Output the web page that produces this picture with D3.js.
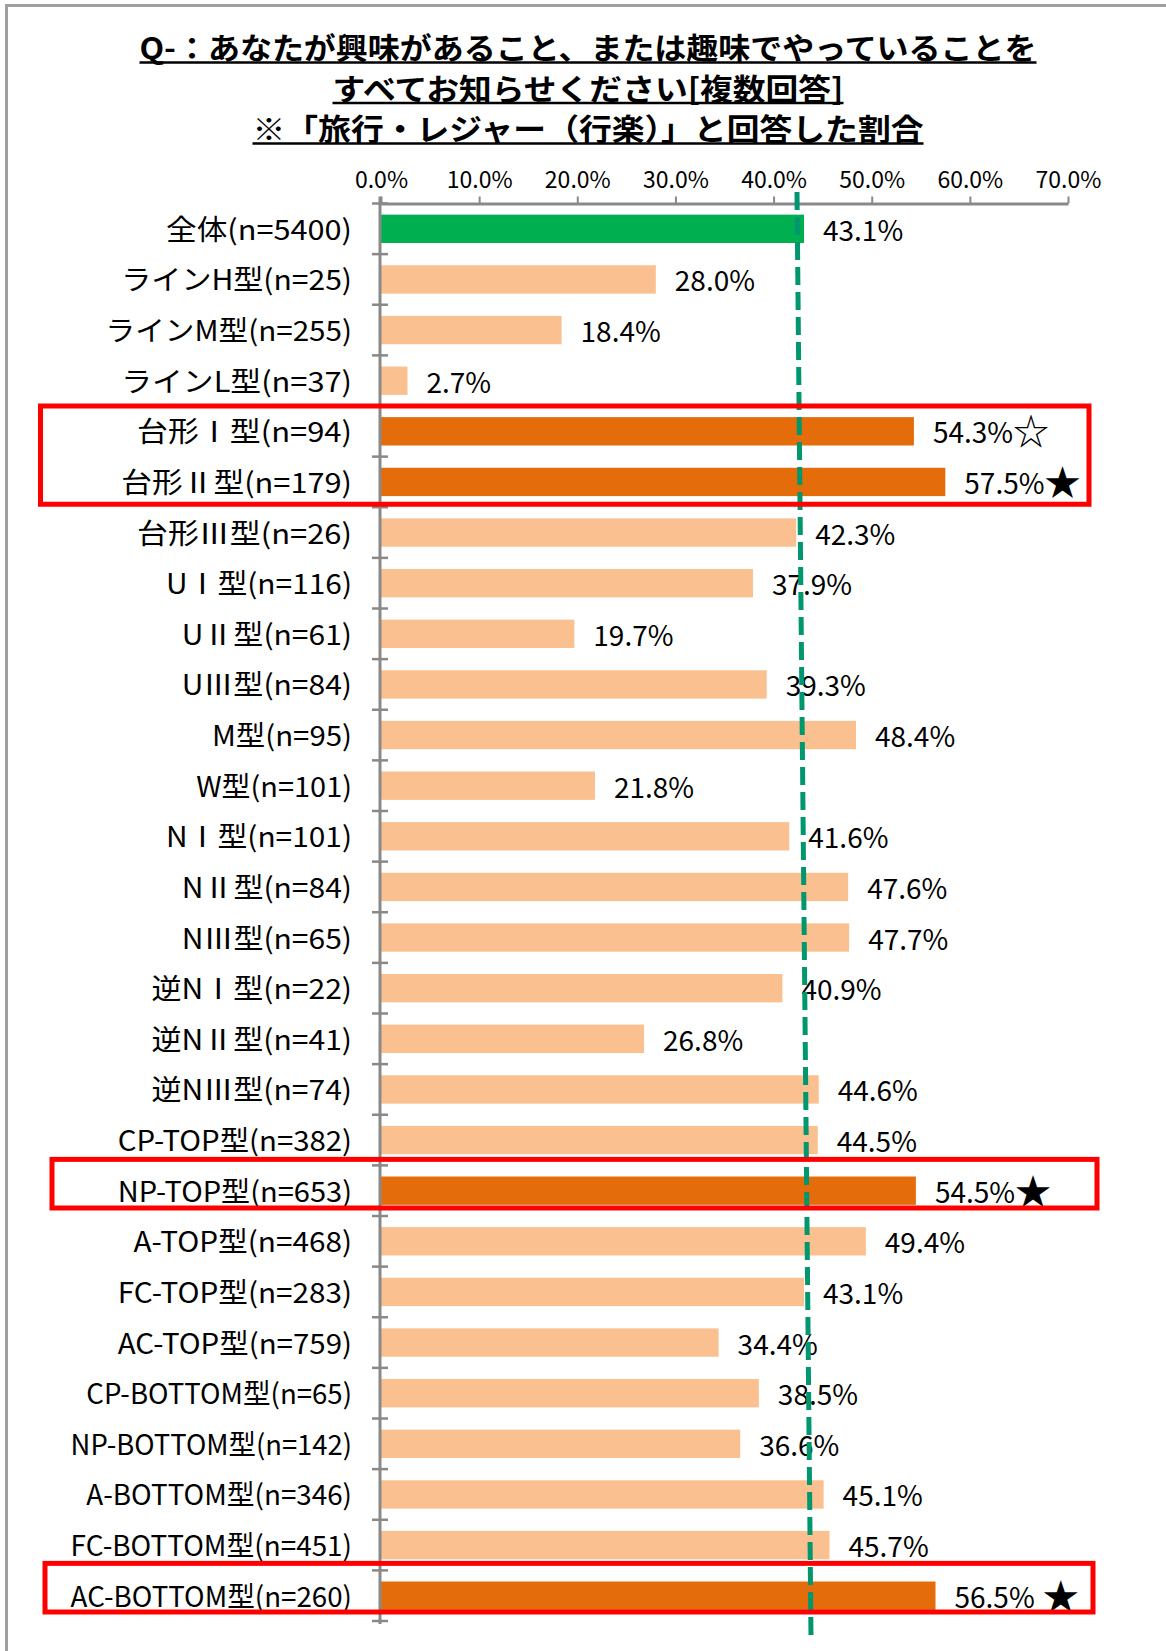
<!DOCTYPE html>
<html>
<head>
<meta charset="utf-8">
<script src="https://cdn.jsdelivr.net/npm/d3@7"></script>
<style>
  body { margin: 0; background: #fff; }
  svg text { font-family: "Noto Sans CJK JP", "Noto Sans", sans-serif; }
</style>
</head>
<body>
<svg id="chart" width="1166" height="1651"></svg>
<script>
'use strict';

var titleLines = [
  'Q-：あなたが興味があること、または趣味でやっていることを',
  'すべてお知らせください[複数回答]',
  '※「旅行・レジャー（行楽）」と回答した割合'
];

var categories = [
  '全体(n=5400)', 'ラインH型(n=25)', 'ラインM型(n=255)', 'ラインL型(n=37)',
  '台形Ⅰ型(n=94)', '台形Ⅱ型(n=179)', '台形Ⅲ型(n=26)',
  'UⅠ型(n=116)', 'UⅡ型(n=61)', 'UⅢ型(n=84)',
  'M型(n=95)', 'W型(n=101)',
  'NⅠ型(n=101)', 'NⅡ型(n=84)', 'NⅢ型(n=65)',
  '逆NⅠ型(n=22)', '逆NⅡ型(n=41)', '逆NⅢ型(n=74)',
  'CP-TOP型(n=382)', 'NP-TOP型(n=653)', 'A-TOP型(n=468)', 'FC-TOP型(n=283)', 'AC-TOP型(n=759)',
  'CP-BOTTOM型(n=65)', 'NP-BOTTOM型(n=142)', 'A-BOTTOM型(n=346)', 'FC-BOTTOM型(n=451)', 'AC-BOTTOM型(n=260)'
];

var values = [
  43.1, 28.0, 18.4, 2.7,
  54.3, 57.5, 42.3,
  37.9, 19.7, 39.3,
  48.4, 21.8,
  41.6, 47.6, 47.7,
  40.9, 26.8, 44.6,
  44.5, 54.5, 49.4, 43.1, 34.4,
  38.5, 36.6, 45.1, 45.7, 56.5
];

// marks written after the value label
var starMarks = ['', '', '', '', '☆', '★', '', '', '', '', '', '', '', '', '', '', '', '', '', '★', '', '', '', '', '', '', '', ' ★'];

var highlightRows = [4, 5, 19, 27];
var boxedRows = [[4, 5], [19, 19], [27, 27]];

var tickValues = [0, 10, 20, 30, 40, 50, 60, 70];
var tickLabels = ['0.0%', '10.0%', '20.0%', '30.0%', '40.0%', '50.0%', '60.0%', '70.0%'];

var averageValue = 43.1;

var svg = d3.select('#chart'),
    axisColor = '#898989',
    x = d3.scaleLinear().domain([0, 70]).range([381, 1068]),
    y = d3.scaleBand().domain(d3.range(categories.length)).range([203.5, 1621]).paddingInner(0.44).paddingOuter(0.22),
    step = y.step(),
    top0 = 203.5;

function barColor(i) {
  if (i === 0) return '#00B050';
  return highlightRows.indexOf(i) >= 0 ? '#E46C0A' : '#FAC090';
}

// the source font is a fixed-pitch gothic: full-width ~30px, half-width ~15.7px
function fixedPitchWidth(s) {
  var w = 0;
  for (var k = 0; k < s.length; k++) w += s.charCodeAt(k) > 0x2000 ? 30.2 : 15.7;
  return w;
}

// outer frame (top and left only)
svg.append('path').attr('d', 'M6.5,1651V5.5H1166')
  .attr('fill', 'none').attr('stroke', '#a0a0a0').attr('stroke-width', 3);

// title
var titleWidths = [897, 511, 671];
titleLines.forEach(function (t, i) {
  var yb = 59 + i * 40.5;
  svg.append('text')
    .attr('x', 588).attr('y', yb)
    .attr('text-anchor', 'middle')
    .attr('font-size', 30).attr('font-weight', 'bold')
    .attr('textLength', titleWidths[i]).attr('lengthAdjust', 'spacingAndGlyphs')
    .text(t);
  svg.append('line')
    .attr('x1', 588 - titleWidths[i] / 2).attr('x2', 588 + titleWidths[i] / 2)
    .attr('y1', yb + 3.5).attr('y2', yb + 3.5)
    .attr('stroke', '#000').attr('stroke-width', 2.5);
});

// bars
svg.append('g').selectAll('rect').data(values).enter().append('rect')
  .attr('x', x(0))
  .attr('y', function (d, i) { return y(i); })
  .attr('width', function (d) { return x(d) - x(0); })
  .attr('height', y.bandwidth())
  .attr('fill', function (d, i) { return barColor(i); });

// top value axis
var xAxis = svg.append('g').attr('transform', 'translate(0,' + top0 + ')')
  .call(d3.axisTop(x).tickValues(tickValues).tickFormat(function (d, i) { return tickLabels[i]; }).tickSize(7).tickSizeOuter(0));
xAxis.select('.domain').attr('stroke', axisColor).attr('stroke-width', 3);
xAxis.selectAll('.tick line').attr('stroke', axisColor).attr('stroke-width', 2);
xAxis.selectAll('.tick text')
  .attr('y', -16).attr('dy', 0)
  .attr('fill', '#000').attr('font-size', 23)
  .style('font-family', '"Noto Sans CJK JP", sans-serif');

// category axis with crossing ticks at band edges
var yAxis = svg.append('g');
yAxis.append('line')
  .attr('x1', 380).attr('x2', 380).attr('y1', top0 - 7).attr('y2', top0 + step * categories.length + 3)
  .attr('stroke', axisColor).attr('stroke-width', 3);
yAxis.selectAll('line.tick').data(d3.range(categories.length + 1)).enter().append('line')
  .attr('class', 'tick')
  .attr('x1', 372).attr('x2', 388)
  .attr('y1', function (d) { return top0 + d * step; })
  .attr('y2', function (d) { return top0 + d * step; })
  .attr('stroke', axisColor).attr('stroke-width', 2.5);

svg.append('g').selectAll('text').data(categories).enter().append('text')
  .attr('x', 352)
  .attr('y', function (d, i) { return y(i) + y.bandwidth() / 2 + 11; })
  .attr('text-anchor', 'end')
  .attr('font-size', 28)
  .attr('textLength', function (d) { return fixedPitchWidth(d); })
  .attr('lengthAdjust', 'spacingAndGlyphs')
  .text(function (d) { return d; });

// value labels
var fmt = d3.format('.1f');
var labels = svg.append('g').selectAll('text').data(values).enter().append('text')
  .attr('x', function (d) { return x(d) + 19; })
  .attr('y', function (d, i) { return y(i) + y.bandwidth() / 2 + 12; })
  .attr('font-size', 28);
labels.append('tspan').text(function (d) { return fmt(d) + '%'; });
labels.append('tspan').attr('font-size', 36).attr('dy', 2)
  .text(function (d, i) { return starMarks[i]; });

// average reference line (drawn slightly slanted, as in the source)
svg.append('line')
  .attr('x1', x(averageValue) - 7).attr('y1', 192)
  .attr('x2', x(averageValue) + 7).attr('y2', 1637)
  .attr('stroke', '#00976F').attr('stroke-width', 5)
  .attr('stroke-dasharray', '18,7');

// red highlight boxes
var boxX = [[40.5, 1089], [52, 1097], [45, 1093]],
    boxDy = [[0, -3], [-6, -8], [-7, -9]];
svg.append('g').selectAll('rect').data(boxedRows).enter().append('rect')
  .attr('x', function (d, i) { return boxX[i][0]; })
  .attr('width', function (d, i) { return boxX[i][1] - boxX[i][0]; })
  .attr('y', function (d, i) { return top0 + d[0] * step + boxDy[i][0]; })
  .attr('height', function (d, i) { return (d[1] - d[0] + 1) * step + boxDy[i][1] - boxDy[i][0]; })
  .attr('fill', 'none').attr('stroke', '#FF0000').attr('stroke-width', 5);
</script>
</body>
</html>
